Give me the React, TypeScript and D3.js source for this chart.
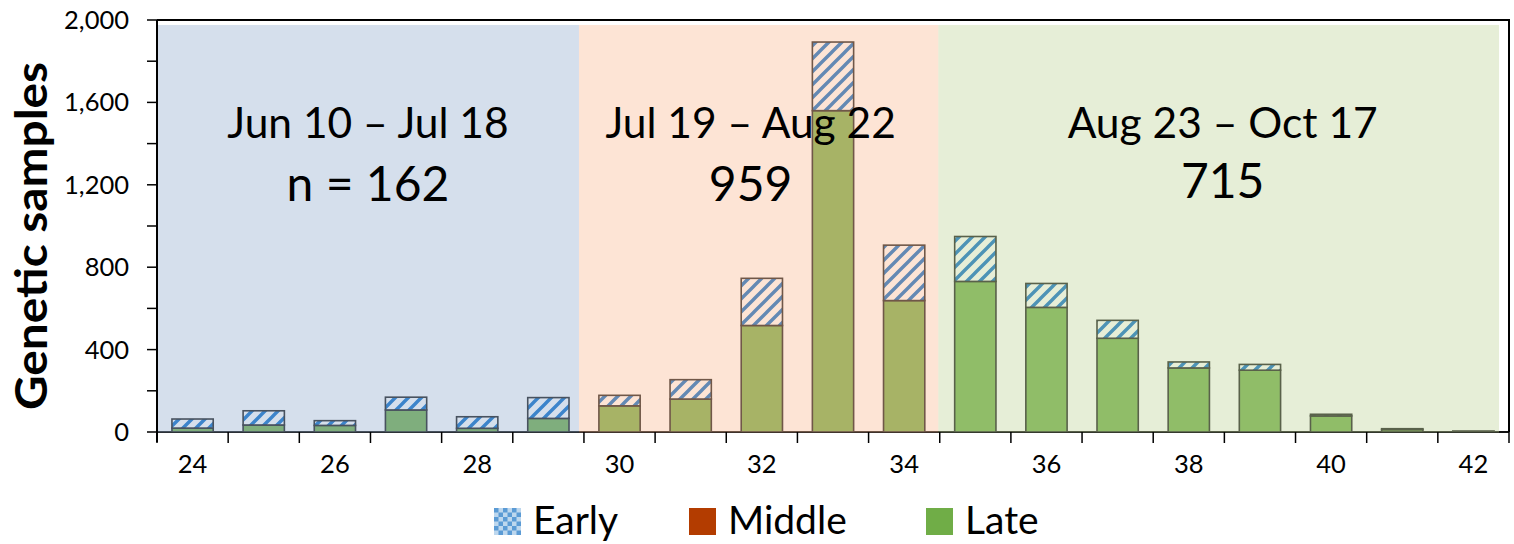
import React from "react";
import * as d3 from "d3";

const weeks = [24, 25, 26, 27, 28, 29, 30, 31, 32, 33, 34, 35, 36, 37, 38, 39, 40, 41, 42];
const lateValues = [19, 34, 32, 107, 18, 66, 127, 160, 517, 1560, 638, 731, 605, 455, 311, 300, 78, 12, 3];
const middleValues = [0, 0, 0, 0, 0, 0, 0, 0, 0, 0, 0, 0, 0, 0, 0, 0, 0, 0, 0];
const earlyValues = [44, 69, 23, 62, 56, 101, 51, 94, 229, 333, 269, 218, 116, 87, 29, 28, 8, 4, 1];

const periodLabels = ["Jun 10 \u2013 Jul 18", "Jul 19 \u2013 Aug 22", "Aug 23 \u2013 Oct 17"];
const periodCounts = ["n = 162", "959", "715"];
const periodStart = [23.5, 29.43, 34.48];
const periodEnd = [29.43, 34.48, 42.36];
const periodColors = ["rgb(150,175,208)", "rgb(250,188,150)", "rgb(192,212,155)"];

const yTicks = [0, 200, 400, 600, 800, 1000, 1200, 1400, 1600, 1800, 2000];
const yLabels = [0, 400, 800, 1200, 1600, 2000];
const xLabels = [24, 26, 28, 30, 32, 34, 36, 38, 40, 42];

const legendItems = ["Early", "Middle", "Late"];

export default function App() {
  const W = 1514, H = 544;
  const left = 157, right = 1509, top = 20, bottom = 432;
  const font = "Lato, 'Noto Sans', sans-serif";

  const x = d3.scaleBand<number>().domain(weeks).range([left, right]).paddingInner(0.42).paddingOuter(0.21);
  const step = x.step();
  const xw = d3.scaleLinear().domain([23.5, 42.5]).range([left, right]);
  const y = d3.scaleLinear().domain([0, 2000]).range([bottom, top]);
  const fmt = d3.format(",");

  const stroke = "#151515";
  const stacks = weeks.map((w, i) => {
    const l = lateValues[i], m = middleValues[i], e = earlyValues[i];
    return { w, segs: [
      { y0: 0, y1: l, fill: "#70AD47" },
      { y0: l, y1: l + m, fill: "#B33C00" },
      { y0: l + m, y1: l + m + e, fill: "url(#hatch)" },
    ] };
  });

  const boundaries = d3.range(weeks.length + 1).map((k) => left + k * step);
  const regionTop = y(1976);

  const legendX = [494, 689, 926];
  const legendFill = ["url(#checker)", "#B33C00", "#70AD47"];

  return (
    <svg width={W} height={H} style={{ display: "block", position: "absolute", left: 0, top: 0 }}>
      <defs>
        <pattern id="hatch" patternUnits="userSpaceOnUse" width={13} height={13}>
          <rect width={13} height={13} fill="#ffffff" />
          <path d="M-2,15 L15,-2 M-4,4 L4,-4 M9,17 L17,9" stroke="#0068C8" strokeWidth={3.4} />
        </pattern>
        <pattern id="checker" patternUnits="userSpaceOnUse" width={9} height={9} x={494} y={508}>
          <rect width={9} height={9} fill="#BDD7EE" />
          <rect width={4.5} height={4.5} fill="#5B9BD5" />
          <rect x={4.5} y={4.5} width={4.5} height={4.5} fill="#5B9BD5" />
        </pattern>
      </defs>
      <rect width={W} height={H} fill="#ffffff" />

      <line x1={left} x2={right} y1={bottom} y2={bottom} stroke="#111" strokeWidth={2} />

      {stacks.map((s) => (
        <g key={s.w}>
          {s.segs.filter((g) => g.y1 > g.y0).map((g, j) => (
            <rect key={j} x={x(s.w)} width={x.bandwidth()} y={y(g.y1)} height={y(g.y0) - y(g.y1)}
              fill={g.fill} stroke={stroke} strokeWidth={1.6} />
          ))}
        </g>
      ))}

      {periodStart.map((p, i) => (
        <rect key={i} x={xw(p) + (i === 0 ? 1 : 0)} y={regionTop} width={xw(periodEnd[i]) - xw(p) - (i === 0 ? 1 : 0)}
          height={bottom + 0.5 - regionTop} fill={periodColors[i]} opacity={0.4} />
      ))}

      <line x1={left} x2={left} y1={top} y2={bottom + 10} stroke="#000" strokeWidth={2} />
      {yTicks.map((t) => (
        <line key={t} x1={left - 10} x2={left} y1={y(t)} y2={y(t)} stroke="#000" strokeWidth={1.5} />
      ))}
      {yLabels.map((t) => (
        <text key={t} x={129} y={y(t)} dy="0.35em" textAnchor="end" fontFamily={font} fontSize={25.5} fill="#000">{fmt(t)}</text>
      ))}

      <line x1={left} x2={right + 1} y1={top} y2={top} stroke="#000" strokeWidth={2} />
      <line x1={right} x2={right} y1={top} y2={bottom} stroke="#000" strokeWidth={2} />

      {boundaries.map((b, k) => (
        <line key={k} x1={b} x2={b} y1={bottom} y2={bottom + 11} stroke="#000" strokeWidth={1.5} />
      ))}
      {xLabels.map((w) => (
        <text key={w} x={(x(w) as number) + x.bandwidth() / 2} y={473} textAnchor="middle" fontFamily={font} fontSize={25.5} fill="#000">{w}</text>
      ))}

      {periodLabels.map((lab, i) => {
        const cx = (xw(periodStart[i]) + xw(periodEnd[i])) / 2 + [0, -8, 4][i];
        return (
          <g key={i}>
            <text x={cx} y={138} textAnchor="middle" fontFamily={font} fontSize={42.5} fill="#000">{lab}</text>
            <text x={cx} y={[201, 201, 198][i]} textAnchor="middle" fontFamily={font} fontSize={48} fill="#000">{periodCounts[i]}</text>
          </g>
        );
      })}

      <text transform={`translate(47,236) rotate(-90)`} textAnchor="middle" fontFamily={font} fontWeight="bold" fontSize={43}
        textLength={348} lengthAdjust="spacingAndGlyphs" fill="#000">Genetic samples</text>

      {legendItems.map((it, i) => (
        <g key={it}>
          <rect x={legendX[i]} y={508} width={27} height={27} fill={legendFill[i]} />
          <text x={legendX[i] + 39} y={534} fontFamily={font} fontSize={39} fill="#000">{it}</text>
        </g>
      ))}
    </svg>
  );
}
